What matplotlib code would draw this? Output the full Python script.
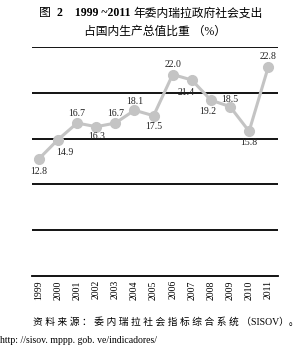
import matplotlib.pyplot as plt

years = [1999, 2000, 2001, 2002, 2003, 2004, 2005, 2006, 2007, 2008, 2009, 2010, 2011]
values = [12.8, 14.9, 16.7, 16.3, 16.7, 18.1, 17.5, 22.0, 21.4, 19.2, 18.5, 15.8, 22.8]
# label offsets in points (dx, dy)
offsets = [(0, -9), (5, -9), (0, 7), (0, -7), (0, 7), (0, 6), (0, -8), (0, 7),
           (-4, -9), (-2, -8), (0, 5), (0, -8), (0, 8)]
gridlines = [5, 10, 15, 20, 25]

serif = ['Liberation Serif', 'Noto Sans CJK SC']

fig = plt.figure(figsize=(3.01, 3.51), dpi=100)
ax = fig.add_axes([0.106, 0.2137, 0.818, 0.6523])

for g in gridlines:
    ax.axhline(g, color='black', lw=1.3, zorder=1)

ax.plot(years, values, color='#c4c4c4', lw=2.2, marker='o', ms=7,
        mfc='#c4c4c4', mec='#c4c4c4', zorder=3)

for x, v, (dx, dy) in zip(years, values, offsets):
    ax.annotate(f'{v:.1f}', (x, v), xytext=(dx, dy), textcoords='offset points',
                ha='center', va='center', fontsize=7, family=serif, color='#222222')

ax.set_ylim(0, 25)
ax.set_xlim(1998.63, 2011.52)
ax.set_yticks([])
ax.set_xticks(years)
ax.set_xticklabels([str(y) for y in years], rotation=90, fontsize=7, family=serif)
ax.tick_params(axis='x', length=0, pad=3)
for s in ['left', 'right', 'top']:
    ax.spines[s].set_visible(False)
ax.spines['bottom'].set_linewidth(1.3)

# title: "图" regular, number part bold, rest regular
fig.text(0.13, 0.962, '图', ha='left', va='center', fontsize=8.5, family=serif)
fig.text(0.19, 0.962, '2    1999 ~2011', ha='left', va='center', fontsize=8.5,
         family=serif, weight='bold')
fig.text(0.872, 0.962, '年委内瑞拉政府社会支出', ha='right', va='center',
         fontsize=8.5, family=serif)
fig.text(0.515, 0.908, '占国内生产总值比重 （%）', ha='center', va='center',
         fontsize=8.5, family=serif)

src = '资料来源：委内瑞拉社会指标综合系统'
fig.text(0.11, 0.083, ' '.join(src) + ' （SISOV）。', ha='left', va='center',
         fontsize=7, family=serif)
fig.text(0.0, 0.031, 'http: //sisov. mppp. gob. ve/indicadores/', ha='left', va='center',
         fontsize=7, family=serif)

fig.savefig('out.png', dpi=100)
